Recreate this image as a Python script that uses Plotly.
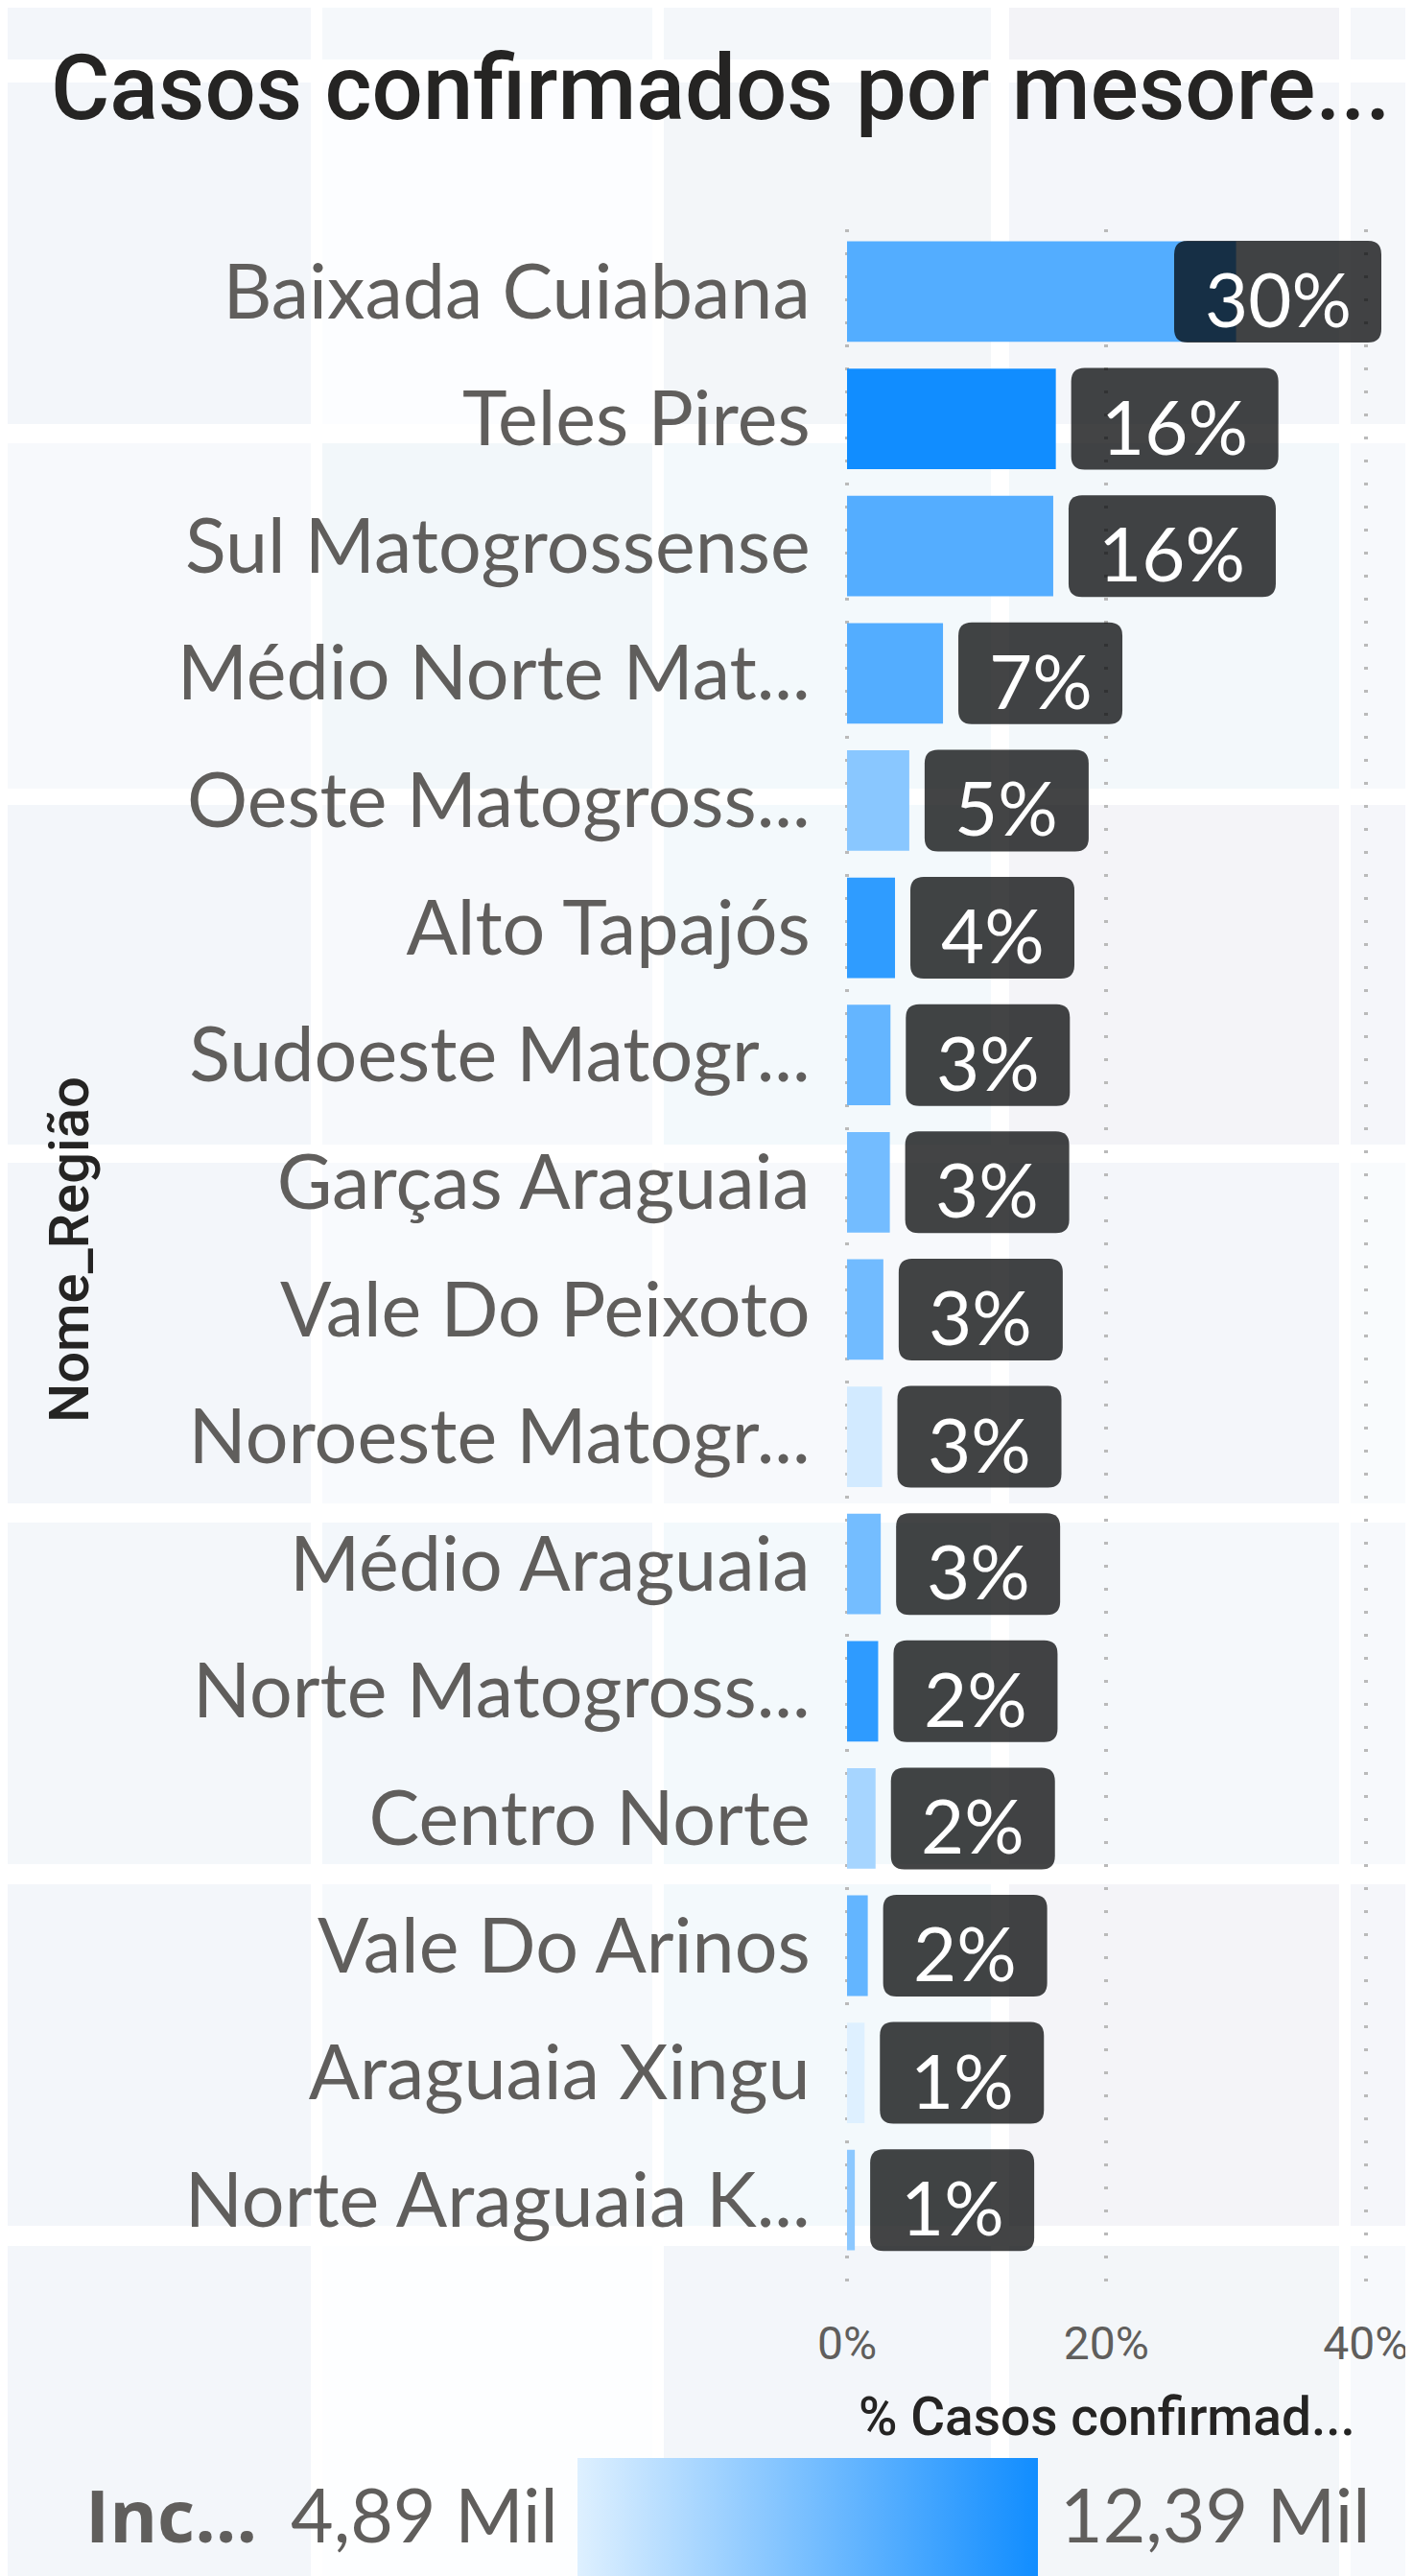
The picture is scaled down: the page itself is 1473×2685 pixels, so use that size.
import plotly.graph_objects as go

# ---------------- data ----------------
regioes = ["Baixada Cuiabana", "Teles Pires", "Sul Matogrossense", "Médio Norte Mat...",
           "Oeste Matogross...", "Alto Tapajós", "Sudoeste Matogr...", "Garças Araguaia",
           "Vale Do Peixoto", "Noroeste Matogr...", "Médio Araguaia", "Norte Matogross...",
           "Centro Norte", "Vale Do Arinos", "Araguaia Xingu", "Norte Araguaia K..."]
pct_casos = [30.0, 16.1, 15.9, 7.4, 4.8, 3.7, 3.35, 3.3, 2.8, 2.7, 2.6, 2.4, 2.2, 1.6, 1.35, 0.6]
incidencia_mil = [9.98, 12.39, 9.95, 9.98, 8.00, 11.29, 9.35, 8.80, 8.88, 5.33, 8.77, 11.33,
                  6.94, 9.39, 4.89, 7.89]
x_ticks = [0, 20, 40]
x_tick_labels = ["0%", "20%", "40%"]

# ---------------- geometry / style ----------------
W, H = 1473, 2685
OFF = 8  # page body margin of the html page
FIG_BG = "#ffffff"
GRAY = "#605e5c"
DARK = "#252423"
SANS = "Lato, 'Segoe UI', sans-serif"
DIN = "Roboto, 'DIN', sans-serif"

plot_left_px, plot_right_px = 881.65 - OFF, 1440.0 - OFF
plot_top_px, plot_bottom_px = 239.0 - OFF, 2398.0 - OFF
x_range = [-0.1, 41.2]
y_range = [15.79, -0.49]

colorscale = [[0, "#DEF0FF"], [1, "#118DFF"]]
cmin, cmax = min(incidencia_mil), max(incidencia_mil)

fig = go.Figure()
fig.add_trace(go.Bar(
    x=pct_casos, y=regioes, orientation="h", width=0.79,
    marker=dict(color=incidencia_mil, colorscale=colorscale, cmin=cmin, cmax=cmax,
                line=dict(width=0), showscale=True,
                colorbar=dict(orientation="h", x=834 / W, xanchor="center", y=0, yanchor="bottom",
                              len=480, lenmode="pixels", thickness=131, thicknessmode="pixels",
                              showticklabels=False, ticks="", outlinewidth=0, xpad=0, ypad=0)),
    hoverinfo="skip", showlegend=False,
))

# ---------------- background tiles (page decoration) ----------------
cols = [(0, 324), (336, 680), (692, 1033), (1052, 1396), (1408, 1481)]
rows = [(0, 62), (86, 442), (462, 822), (839, 1193), (1212, 1567), (1587, 1943), (1964, 2320), (2341, 2693)]
tile_colors = [
    ["#f3f6fa", "#f5f8fb", "#f4f7fa", "#f3f3f7", "#f5f7fa"],
    ["#f3f6fa", "#fcfdff", "#f3f6f9", "#f4f6fa", "#f5f7fa"],
    ["#f7f9fc", "#f2f7fa", "#f3f9fc", "#f3f8fb", "#f7f9fc"],
    ["#f3f6fa", "#f7f9fc", "#f3f9fc", "#f4f4f8", "#f5f6fa"],
    ["#f3f6fa", "#f8fafd", "#f7f9fc", "#f4f6fa", "#f9fbfd"],
    ["#f4f7fa", "#f3f7fb", "#f3f9fc", "#f5f8fb", "#f7f9fc"],
    ["#f3f6fa", "#f6f9fc", "#f3f9fc", "#f4f4f8", "#f5f6fa"],
    ["#f3f6fa", "#fdfeff", "#f3f6fa", "#f3f6f9", "#f7f9fc"],
]
shapes = []
for ri, (y0, y1) in enumerate(rows):
    for ci, (x0, x1) in enumerate(cols):
        shapes.append(dict(type="rect", xref="paper", yref="paper", layer="below",
                           x0=max(x0 - OFF, 0) / W, x1=(x1 - OFF) / W,
                           y0=1 - (y1 - OFF) / H, y1=1 - max(y0 - OFF, 0) / H,
                           fillcolor=tile_colors[ri][ci], line=dict(width=0)))


# ---------------- data labels (rounded dark boxes) ----------------
def rounded(x0, x1, y0, y1, r):
    return (f"M{x0 + r},{y0} L{x1 - r},{y0} Q{x1},{y0} {x1},{y0 + r} L{x1},{y1 - r} "
            f"Q{x1},{y1} {x1 - r},{y1} L{x0 + r},{y1} Q{x0},{y1} {x0},{y1 - r} "
            f"L{x0},{y0 + r} Q{x0},{y0} {x0 + r},{y0} Z")


plot_w = plot_right_px - plot_left_px
px_per_unit = plot_w / (x_range[1] - x_range[0])
annotations = []
for cat, v in zip(regioes, pct_casos):
    label = f"{v:.0f}%"
    bw = 45 * len(label) + 81
    end_px = (v - x_range[0]) * px_per_unit
    if end_px + 16 + bw > plot_w:
        anchor, bx0, bx1 = x_range[1], -bw, 0
    else:
        anchor, bx0, bx1 = v, 16, 16 + bw
    shapes.append(dict(type="path", xref="x", yref="y", xsizemode="pixel", ysizemode="pixel",
                       xanchor=anchor, yanchor=cat, path=rounded(bx0, bx1, -53, 53, 14),
                       fillcolor="rgba(2,3,4,0.74)", line=dict(width=0), layer="above"))
    annotations.append(dict(xref="x", yref="y", x=anchor, y=cat, xshift=(bx0 + bx1) / 2, yshift=-7,
                            text=label, showarrow=False, xanchor="center", yanchor="middle",
                            font=dict(family=SANS, size=78, color="#ffffff")))

# ---------------- titles and legend texts ----------------
annotations += [
    dict(xref="paper", yref="paper", x=43 / W, y=1 - 27 / H, xanchor="left", yanchor="top",
         text="Casos confirmados por mesore...", showarrow=False,
         font=dict(family=DIN, size=94, color=DARK, weight=500)),
    dict(xref="paper", yref="paper", x=64 / W, y=1 - 1295 / H, xanchor="center", yanchor="middle",
         text="Nome_Região", textangle=-90, showarrow=False,
         font=dict(family=DIN, size=58, color=DARK, weight=500)),
    dict(xref="paper", yref="paper", x=1146 / W, y=1 - 2511 / H, xanchor="center", yanchor="middle",
         text="% Casos confirmad...", showarrow=False,
         font=dict(family=DIN, size=55, color=DARK, weight=500)),
    dict(xref="paper", yref="paper", x=79 / W, y=1 - 2612 / H, xanchor="left", yanchor="middle",
         text="<b>Inc...</b>", showarrow=False,
         font=dict(family="'Open Sans', sans-serif", size=76, color=GRAY)),
    dict(xref="paper", yref="paper", x=576 / W, y=1 - 2612 / H, xanchor="right", yanchor="middle",
         text=f"{cmin:.2f}".replace(".", ",") + " Mil", showarrow=False,
         font=dict(family=SANS, size=77, color=GRAY)),
    dict(xref="paper", yref="paper", x=1095 / W, y=1 - 2612 / H, xanchor="left", yanchor="middle",
         text=f"{cmax:.2f}".replace(".", ",") + " Mil", showarrow=False,
         font=dict(family=SANS, size=77, color=GRAY)),
]

fig.update_layout(
    width=W, height=H, autosize=False,
    margin=dict(l=0, r=0, t=0, b=0, pad=0, autoexpand=False),
    paper_bgcolor=FIG_BG, plot_bgcolor="rgba(0,0,0,0)",
    shapes=shapes, annotations=annotations,
    xaxis=dict(domain=[plot_left_px / W, plot_right_px / W], range=x_range, automargin=False,
               tickmode="array", tickvals=x_ticks, ticktext=x_tick_labels,
               showgrid=True, gridcolor="#bababa",
               gridwidth=4, griddash="3px,21px", zeroline=False, showline=False, ticks="",
               tickfont=dict(family=DIN, size=48, color=GRAY), ticklabelstandoff=12,
               fixedrange=True),
    yaxis=dict(domain=[1 - plot_bottom_px / H, 1 - plot_top_px / H], type="category",
               automargin=False,
               categoryorder="array", categoryarray=regioes, range=y_range,
               showgrid=False, zeroline=False, showline=False, ticks="",
               tickfont=dict(family=SANS, size=79, color=GRAY), ticklabelstandoff=36,
               fixedrange=True),
    bargap=0.21,
)

fig.write_html("out.html")
